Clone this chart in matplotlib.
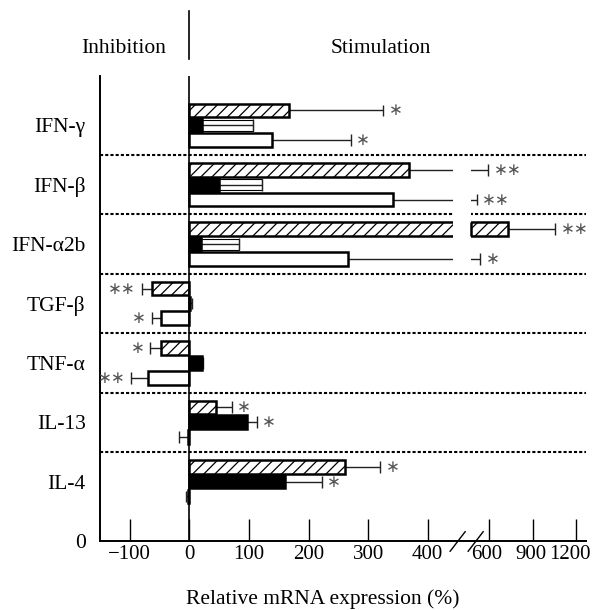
import numpy as np
import matplotlib
matplotlib.use('Agg')
import matplotlib.pyplot as plt
import matplotlib.transforms as mtransforms

plt.rcParams['font.family'] = ['Liberation Serif', 'DejaVu Serif']
plt.rcParams['hatch.linewidth'] = 0.9

# groups from top to bottom
cytokines = ['IFN-γ', 'IFN-β', 'IFN-α2b', 'TGF-β', 'TNF-α', 'IL-13', 'IL-4']

hatched_val = [167, 369, 731, -63, -48, 45, 262]
hatched_err = [158, 224, 323, 17, 18, 26, 58]
hatched_sig = ['*', '**', '**', '**', '*', '*', '*']

black_val = [21, 50, 19, 1, 21, 96, 161]
black_err = [86, 72, 65, 3, 2, 17, 61]
black_sig = ['', '', '', '', '', '*', '*']

white_val = [139, 342, 267, -47, -70, -3, -3]
white_err = [132, 198, 289, 16, 28, 14, 2]
white_sig = ['*', '**', '*', '*', '**', '', '']

xticks = [-100, 0, 100, 200, 300, 400, 600, 900, 1200]
xtick_labels = ['\u2212100', '0', '100', '200', '300', '400', '600', '900', '1200']

gap_lo, gap_hi = 443, 514


# broken x axis: linear up to 450, squeezed above 600
def fwd(x):
    x = np.asarray(x, dtype=float)
    return np.where(x <= 450, x,
                    np.where(x < 600, 450 + (x - 450) * 53.5 / 150,
                             503.5 + (x - 600) * 0.2422))


def inv(u):
    u = np.asarray(u, dtype=float)
    return np.where(u <= 450, u,
                    np.where(u < 503.5, 450 + (u - 450) * 150 / 53.5,
                             600 + (u - 503.5) / 0.2422))


fig = plt.figure(figsize=(5.93, 6.10), dpi=100)
ax = fig.add_axes([0.1678, 0.1131, 0.8204, 0.7623])
ax.set_xscale('function', functions=(fwd, inv))

n = len(cytokines)
ypos = np.arange(n, 0, -1)
h = 0.23
fs = 15.5

series = [
    (hatched_val, hatched_err, hatched_sig, 0.25, dict(color='white', hatch='///')),
    (black_val, black_err, black_sig, 0.0, dict(color='black')),
    (white_val, white_err, white_sig, -0.25, dict(color='white')),
]

for k, (vals, errs, sigs, off, style) in enumerate(series):
    vals = np.array(vals, dtype=float)
    errs = np.array(errs, dtype=float)
    yy = ypos + off
    ax.barh(yy, vals, height=h, edgecolor='black', linewidth=1.8, zorder=3, **style)
    # bars running past the break get a fresh edge where they resume
    long = vals > gap_hi
    ax.vlines(np.full(long.sum(), gap_hi), yy[long] - h / 2, yy[long] + h / 2,
              color='black', linewidth=1.8, zorder=7)
    ends = vals + np.sign(vals) * errs
    if k == 1:
        # the IFN black bars carry their SD as an open box
        box = np.arange(n) < 3
        ax.barh(yy[box], errs[box], left=vals[box], height=h * 0.8, fill=False,
                edgecolor='black', linewidth=0.8, zorder=2)
    ax.hlines(yy, vals, ends, color='#222222', linewidth=1.0, zorder=2)
    ax.vlines(ends, yy - 0.1, yy + 0.1, color='#222222', linewidth=1.0, zorder=2)
    for e, y, s in zip(ends, yy, sigs):
        if not s:
            continue
        right = e >= 0
        ax.annotate(s.replace('*', '\u2217'), xy=(e, y), xytext=(4 if right else -4, 0),
                    textcoords='offset points', ha='left' if right else 'right',
                    va='center', fontsize=12, color='#555555', family=['DejaVu Sans'])

# dotted separators between cytokines
for y in ypos[1:] + 0.5:
    ax.axhline(y, color='black', linewidth=1.5, linestyle=(0, (1.5, 1)), zorder=1)

# zero line
ax.axvline(0, color='black', linewidth=1.2, zorder=4)

# axis break
ax.add_patch(plt.Rectangle((gap_lo, 4.6), gap_hi - gap_lo, 1.8, facecolor='white',
                           edgecolor='none', zorder=6))
xt = ax.get_xaxis_transform()
for uc in [450.2, 480.4]:
    xs = inv([uc - 12.6, uc + 12.6])
    ax.plot(xs, [-0.022, 0.02], color='black', linewidth=1.0, transform=xt,
            clip_on=False, zorder=7)

ax.set_xlim(-150.7, 1269)
ax.set_ylim(0, 7.83)
ax.set_xticks(xticks)
ax.set_xticklabels(xtick_labels, fontsize=15)
ax.xaxis.set_minor_locator(matplotlib.ticker.NullLocator())
ax.tick_params(axis='x', direction='in', length=15.5, width=1.0, pad=3)
# the crowded labels right of the break sit a little left of their ticks
for lab, dx in zip(ax.get_xticklabels()[-3:], [-3, -2, -6]):
    lab.set_transform(lab.get_transform() +
                      mtransforms.ScaledTranslation(dx / 100, 0, fig.dpi_scale_trans))
ax.set_yticks([0] + list(ypos[::-1]))
ax.set_yticklabels(['0'] + cytokines[::-1], fontsize=fs)
ax.tick_params(axis='y', length=0, pad=10)

for side in ['top', 'right']:
    ax.spines[side].set_visible(False)
ax.spines['left'].set_linewidth(1.4)
ax.spines['bottom'].set_linewidth(1.4)

ax.set_xlabel('Relative mRNA expression (%)', fontsize=fs)
ax.xaxis.set_label_coords(0.459, -0.104)

# header
ax.axvline(0, ymin=1.037, ymax=1.14, color='black', linewidth=1.2, clip_on=False)
ax.text(-110, 1.06, 'Inhibition', transform=xt, ha='center', va='center', fontsize=fs)
ax.text(322, 1.06, 'Stimulation', transform=xt, ha='center', va='center', fontsize=fs)

fig.savefig('out.png', dpi=100)
